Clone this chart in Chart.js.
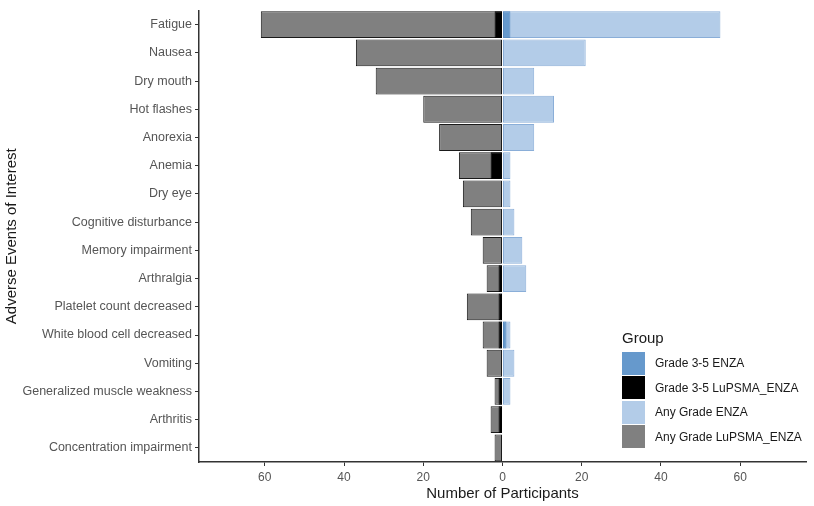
<!DOCTYPE html>
<html>
<head>
<meta charset="utf-8">
<script src="https://cdn.jsdelivr.net/npm/chart.js@4.4.1/dist/chart.umd.min.js"></script>
<style>
    html, body { margin: 0; padding: 0; background: #fff; }
    #wrap { position: relative; width: 814px; height: 506px; }
    #legend { position: absolute; left: 622px; top: 329px; font-family: "Liberation Sans", Arial, sans-serif; color: #1a1a1a; }
    #legend .title { font-size: 15px; margin-bottom: 5px; }
    #legend .row { display: flex; align-items: center; height: 24.5px; }
    #legend .key { width: 23px; height: 23px; margin-right: 10px; box-sizing: border-box; }
    #legend .lbl { font-size: 12px; color: #1a1a1a; }
</style>
</head>
<body>
<div id="wrap">
    <canvas id="aeChart" width="814" height="506"></canvas>
    <div id="legend"></div>
</div>
<script>
const categories = [
    'Fatigue', 'Nausea', 'Dry mouth', 'Hot flashes', 'Anorexia', 'Anemia', 'Dry eye',
    'Cognitive disturbance', 'Memory impairment', 'Arthralgia', 'Platelet count decreased',
    'White blood cell decreased', 'Vomiting', 'Generalized muscle weakness', 'Arthritis',
    'Concentration impairment'
];
// LuPSMA_ENZA counts are drawn to the left (negative side)
const anyGradeLu   = [61, 37, 32, 20, 16, 11, 10, 8, 5, 4, 9, 5, 4, 2, 3, 2];
const anyGradeEnza = [55, 21, 8, 13, 8, 2, 2, 3, 5, 6, 0, 2, 3, 2, 0, 0];
const grade35Lu    = [2, 0, 0, 0, 0, 3, 0, 0, 0, 1, 1, 1, 0, 1, 1, 0];
const grade35Enza  = [2, 0, 0, 0, 0, 0, 0, 0, 0, 0, 0, 1, 0, 0, 0, 0];
const xTicks = [-60, -40, -20, 0, 20, 40, 60];

const FONT = '"Liberation Sans", Arial, sans-serif';
const groups = [
    { label: 'Grade 3-5 ENZA', data: grade35Enza, sign: 1, fill: '#6699cc', border: '#5a8cc0' },
    { label: 'Grade 3-5 LuPSMA_ENZA', data: grade35Lu, sign: -1, fill: '#000000', border: '#000000' },
    { label: 'Any Grade ENZA', data: anyGradeEnza, sign: 1, fill: '#b3cce8', border: '#8aaed8' },
    { label: 'Any Grade LuPSMA_ENZA', data: anyGradeLu, sign: -1, fill: '#808080', border: '#1a1a1a' },
];

const datasets = groups.map(g => ({
    label: g.label,
    data: g.data.map(v => v * g.sign),
    backgroundColor: g.fill,
    borderColor: g.border,
    borderWidth: 1,
    borderSkipped: false,
    grouped: false,
    categoryPercentage: 1,
    barPercentage: 0.95,
}));

const ctx = document.getElementById('aeChart').getContext('2d');
new Chart(ctx, {
    type: 'bar',
    data: { labels: categories, datasets },
    options: {
        indexAxis: 'y',
        responsive: false,
        animation: false,
        layout: { padding: { top: 7, right: 8, left: 0, bottom: 0 } },
        plugins: { legend: { display: false }, tooltip: { enabled: false } },
        scales: {
            x: {
                type: 'linear',
                min: -76.6,
                max: 76.6,
                afterBuildTicks: s => { s.ticks = xTicks.map(v => ({ value: v })); },
                afterFit: s => { s.height = 44; },
                ticks: { color: '#555', font: { family: FONT, size: 12 }, padding: 4, callback: v => Math.abs(v) },
                grid: { display: true, drawOnChartArea: false, drawTicks: true, tickLength: 4, color: '#333' },
                border: { display: true, color: '#333', width: 1.5 },
                title: { display: true, text: 'Number of Participants', color: '#1a1a1a', font: { family: FONT, size: 15 }, padding: { top: 2, bottom: 3 } }
            },
            y: {
                type: 'category',
                afterFit: s => { s.width = 199; },
                ticks: { color: '#555', font: { family: FONT, size: 12.5 }, padding: 3, autoSkip: false },
                grid: { display: true, offset: false, drawOnChartArea: false, drawTicks: true, tickLength: 4, color: '#333' },
                border: { display: true, color: '#333', width: 1.5 },
                title: { display: true, text: 'Adverse Events of Interest', color: '#1a1a1a', font: { family: FONT, size: 15 }, padding: { top: 3, bottom: 0 } }
            }
        }
    }
});

const legend = document.getElementById('legend');
legend.innerHTML = '<div class="title">Group</div>' + groups.map(g =>
    `<div class="row"><div class="key" style="background:${g.fill}"></div><div class="lbl">${g.label}</div></div>`
).join('');
</script>
</body>
</html>
